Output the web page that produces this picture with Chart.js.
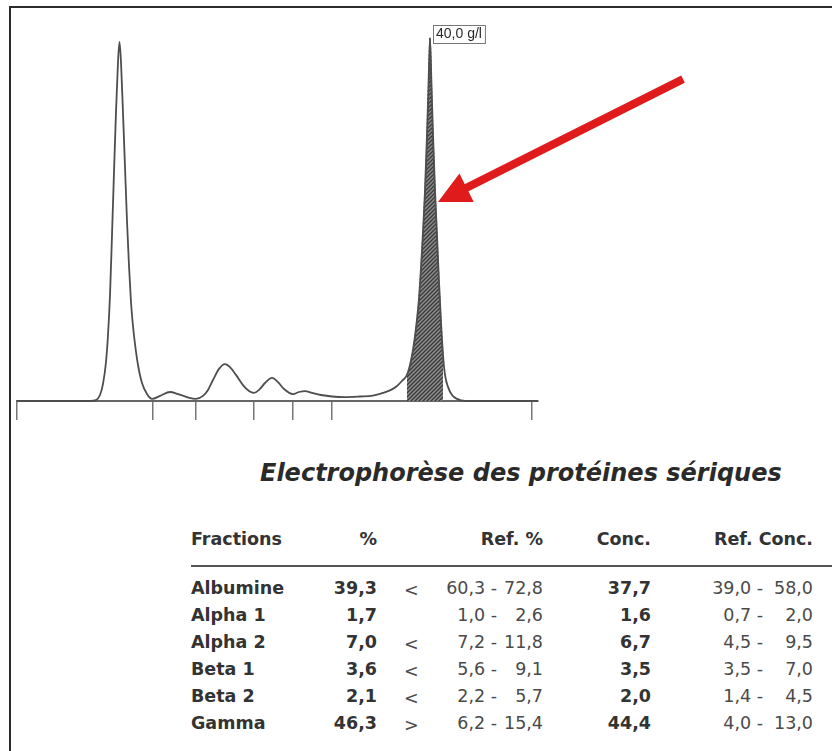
<!DOCTYPE html>
<html>
<head>
<meta charset="utf-8">
<script src="https://cdn.jsdelivr.net/npm/chart.js@4.4.1/dist/chart.umd.min.js"></script>
<style>
  html, body { margin: 0; padding: 0; background: #fff; }
  body { width: 832px; height: 751px; position: relative; overflow: hidden; font-family: "DejaVu Sans", Verdana, sans-serif; }
  #frame { position: absolute; left: 9px; top: 6px; width: 840px; height: 760px; border-left: 2px solid #2b2b2b; border-top: 2px solid #2b2b2b; }
  #wrap { position: absolute; left: 0; top: 0; width: 832px; height: 440px; }
  #title { position: absolute; left: 260px; top: 458px; margin: 0; font: italic bold 24px "DejaVu Sans"; color: #2a2a2a; white-space: nowrap; line-height: 30px; }
  #rule { position: absolute; left: 191px; top: 565px; width: 641px; height: 2px; background: #555; }
  .cell { position: absolute; font-size: 17.5px; line-height: 22px; white-space: pre; color: #4a4a4a; }
  .b { font-weight: bold; color: #333; }
</style>
</head>
<body>
<div id="frame"></div>
<div id="wrap"><canvas id="chart"></canvas></div>
<h1 id="title">Electrophorèse des protéines sériques</h1>
<div id="rule"></div>
<div id="table"></div>
<script>
// densitometry profile, x = migration, y = absorbance (arbitrary units)
const migration = [0, 14.6, 15.8, 16.6, 17.2, 17.8, 18.2, 18.6, 19, 19.4, 19.8, 20.2, 20.5, 20.8, 21.2, 21.6, 22, 22.4, 22.8, 23.2, 23.6, 24.2, 25, 26, 27,
  28.6, 30.6, 32.2, 34, 35.8, 37.2, 38.2, 39.2, 40.4, 41.6, 42.6, 43.8, 45.2, 46.4, 47.4, 48.4, 49.6, 51, 52.2, 53.4, 55.2,
  56.4, 57.6, 59, 60.8, 63, 65.6, 68.6, 71.2, 73.2, 74.8, 76, 77, 78, 78.6, 79.2, 79.8, 80.4, 81, 81.6, 82, 82.3, 82.6,
  82.9, 83.2, 83.6, 84, 84.4, 84.8, 85.2, 85.6, 86.2, 87, 88, 89.6, 104.2];
const absorbance = [0, 0, 0.3, 2, 5.7, 13, 22, 35.3, 55.3, 76.3, 96.3, 113, 119.7, 113, 96, 78, 60, 45, 33, 25, 19, 12, 6, 2.3, 0.7,
  1.7, 3, 2.3, 1.3, 0.7, 1.7, 3.7, 7, 10.7, 12.3, 11.3, 8.7, 5.3, 3.3, 2.7, 3.7, 6, 7.7, 6.3, 4, 2.3,
  3, 3.3, 2.7, 2, 1.5, 1.3, 1.5, 1.8, 2.7, 3.7, 5, 6.7, 8.7, 12, 17, 24.3, 34.3, 50.3, 70.3, 88.7, 105.3, 121,
  105.3, 88.7, 70.3, 55.3, 39.7, 26.3, 15.3, 8.7, 4.7, 2, 0.7, 0, 0];
// fraction limits on the migration axis
const boundaries = [0, 27.2, 35.8, 47.4, 55.2, 63, 103];
// hatched gamma zone
const spikeFrom = 78;
const spikeTo = 85.2;
const peakLabel = '40,0 g/l';

// results table
const headers = ['Fractions', '%', 'Ref. %', 'Conc.', 'Ref. Conc.'];
const fractions = ['Albumine', 'Alpha 1', 'Alpha 2', 'Beta 1', 'Beta 2', 'Gamma'];
const percent = [39.3, 1.7, 7.0, 3.6, 2.1, 46.3];
const flags = ['<', '', '<', '<', '<', '>'];
const refPctLow = [60.3, 1.0, 7.2, 5.6, 2.2, 6.2];
const refPctHigh = [72.8, 2.6, 11.8, 9.1, 5.7, 15.4];
const conc = [37.7, 1.6, 6.7, 3.5, 2.0, 44.4];
const refConcLow = [39.0, 0.7, 4.5, 3.5, 1.4, 4.0];
const refConcHigh = [58.0, 2.0, 9.5, 7.0, 4.5, 13.0];

const fr = v => v.toFixed(1).replace('.', ',');

// ---- table ----
const table = document.getElementById('table');
function cell(text, y, opts) {
  const s = document.createElement('span');
  s.className = 'cell' + (opts.bold ? ' b' : '');
  s.textContent = text;
  s.style.top = (y - 11) + 'px';
  if (opts.left !== undefined) s.style.left = opts.left + 'px';
  else s.style.right = (832 - opts.right) + 'px';
  table.appendChild(s);
}
const headerY = 539;
cell(headers[0], headerY, {left: 191, bold: true});
cell(headers[1], headerY, {right: 377, bold: true});
cell(headers[2], headerY, {right: 543, bold: true});
cell(headers[3], headerY, {right: 651, bold: true});
cell(headers[4], headerY, {right: 813, bold: true});
fractions.forEach((name, i) => {
  const y = 588 + 27 * i;
  cell(name, y, {left: 191, bold: true});
  cell(fr(percent[i]), y, {right: 377, bold: true});
  if (flags[i]) cell(flags[i], y + 2, {left: 404});
  cell(fr(refPctLow[i]) + ' -', y, {right: 497});
  cell(fr(refPctHigh[i]), y, {right: 543});
  cell(fr(conc[i]), y, {right: 651, bold: true});
  cell(fr(refConcLow[i]) + ' -', y, {right: 763});
  cell(fr(refConcHigh[i]), y, {right: 813});
});

// ---- chart ----
const curve = migration.map((m, i) => ({x: m, y: absorbance[i]}));
const spike = curve.filter(p => p.x >= spikeFrom && p.x <= spikeTo);

// hatch for the gamma spike
const tile = document.createElement('canvas');
tile.width = 4; tile.height = 4;
const tctx = tile.getContext('2d');
tctx.fillStyle = '#8c8c8c';
tctx.fillRect(0, 0, 4, 4);
tctx.strokeStyle = '#3a3a3a';
tctx.lineWidth = 1.3;
tctx.beginPath();
tctx.moveTo(0, 4); tctx.lineTo(4, 0);
tctx.moveTo(-1, 1); tctx.lineTo(1, -1);
tctx.moveTo(3, 5); tctx.lineTo(5, 3);
tctx.stroke();
const ctx = document.getElementById('chart').getContext('2d');
const hatch = ctx.createPattern(tile, 'repeat');

const annotations = {
  id: 'annotations',
  afterDatasetsDraw(chart) {
    const {ctx, scales: {x, y}} = chart;
    const peak = curve.reduce((a, b) => (b.y > a.y ? b : a));
    const px = x.getPixelForValue(peak.x);
    const py = y.getPixelForValue(peak.y);
    ctx.save();
    ctx.font = '14px "Liberation Sans", Arial, sans-serif';
    const w = ctx.measureText(peakLabel).width + 6;
    ctx.fillStyle = '#fff';
    ctx.fillRect(px + 3, py - 13, w, 18);
    ctx.strokeStyle = '#777';
    ctx.lineWidth = 1;
    ctx.strokeRect(px + 3.5, py - 12.5, w, 18);
    ctx.fillStyle = '#2a2a2a';
    ctx.textBaseline = 'middle';
    ctx.fillText(peakLabel, px + 6, py - 3.5);

    // red arrow pointing to the spike
    const tail = {x: 133.2, y: 107.3}, tip = {x: 84.2, y: 66.3};
    const tx = x.getPixelForValue(tail.x), ty = y.getPixelForValue(tail.y);
    const hx = x.getPixelForValue(tip.x), hy = y.getPixelForValue(tip.y);
    const ang = Math.atan2(hy - ty, hx - tx);
    const headLen = 32, headW = 16;
    const bx = hx - headLen * Math.cos(ang), by = hy - headLen * Math.sin(ang);
    ctx.strokeStyle = '#e01b1b';
    ctx.fillStyle = '#e01b1b';
    ctx.lineWidth = 8;
    ctx.beginPath();
    ctx.moveTo(tx, ty);
    ctx.lineTo(bx + 2 * Math.cos(ang), by + 2 * Math.sin(ang));
    ctx.stroke();
    ctx.beginPath();
    ctx.moveTo(hx, hy);
    ctx.lineTo(bx + headW * Math.sin(ang), by - headW * Math.cos(ang));
    ctx.lineTo(bx - headW * Math.sin(ang), by + headW * Math.cos(ang));
    ctx.closePath();
    ctx.fill();
    ctx.restore();
  }
};

new Chart(ctx, {
  type: 'line',
  data: {
    datasets: [
      {
        label: 'Profil',
        data: curve,
        order: 0,
        borderColor: '#4e4e4e',
        borderWidth: 1.8,
        fill: false,
        pointRadius: 0,
        cubicInterpolationMode: 'monotone',
        clip: false
      },
      {
        label: 'Gamma',
        data: spike,
        order: 1,
        borderColor: '#2e2e2e',
        borderWidth: 1.2,
        borderDash: [2, 2],
        backgroundColor: hatch,
        fill: 'origin',
        pointRadius: 0,
        cubicInterpolationMode: 'monotone',
        clip: false
      }
    ]
  },
  options: {
    responsive: true,
    maintainAspectRatio: false,
    animation: false,
    layout: {
      padding: {left: 17, right: 294, top: 38, bottom: 20}
    },
    plugins: {
      legend: {display: false},
      tooltip: {enabled: false}
    },
    scales: {
      x: {
        type: 'linear',
        min: 0,
        max: 104.2,
        afterBuildTicks: axis => {
          axis.ticks = boundaries.map(v => ({value: v}));
        },
        ticks: {display: false},
        grid: {
          drawOnChartArea: false,
          drawTicks: true,
          tickLength: 19,
          color: '#777',
          lineWidth: 1.5
        },
        border: {display: true, color: '#666', width: 2}
      },
      y: {
        display: false,
        min: 0,
        max: 121
      }
    }
  },
  plugins: [annotations]
});
</script>
</body>
</html>
